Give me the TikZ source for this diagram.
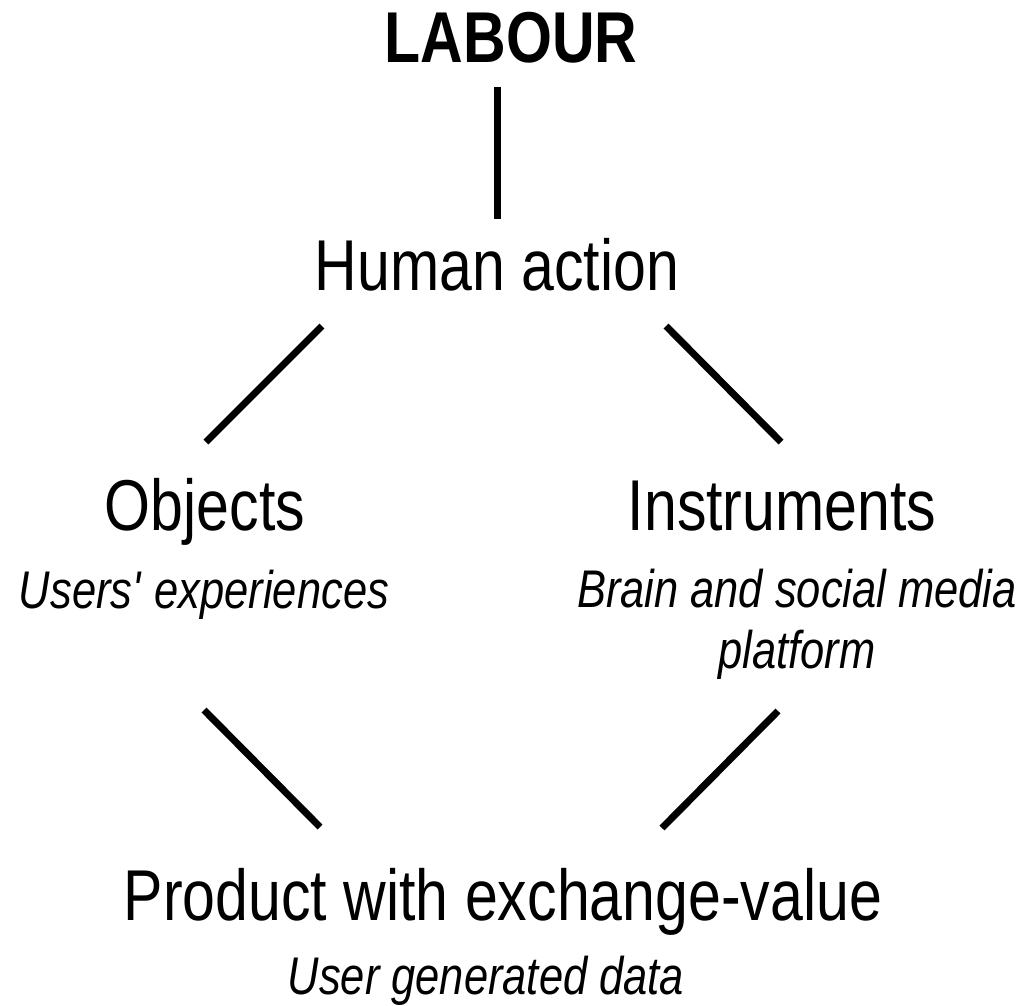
\documentclass[tikz,border=0pt]{standalone}
\usepackage{fontspec}
\setmainfont{Liberation Sans}[FakeStretch=0.82]
\tikzset{
  big/.style={font=\fontsize{72}{80}\selectfont, inner sep=0pt, anchor=base},
  sub/.style={font=\fontsize{53}{61}\selectfont\itshape, inner sep=0pt, anchor=base, align=center},
  link/.style={line width=7pt}
}
\begin{document}
\begin{tikzpicture}[x=1pt,y=-1pt]
\useasboundingbox (0,0) rectangle (1025,1005);
\node[big,font=\fontsize{72}{80}\selectfont\bfseries] (labour) at (511,62) {LABOUR};
\node[big] (human) at (497,290) {Human action};
\node[big] (objects) at (205,530) {Objects};
\node[sub] (users) at (204,608) {Users\textquotesingle{} experiences};
\node[big] (instr) at (782,530) {Instruments};
\node[sub,anchor=north] (brain) at (797,569) {Brain and social media\\platform};
\node[big] (product) at (503,920) {Product with exchange-value};
\node[sub] (data) at (486,994) {User generated data};
% connectors
\coordinate (l1) at (497,87);
\coordinate (h0) at (497,219);
\coordinate (h1) at (322,326);
\coordinate (o1) at (206,442);
\coordinate (h2) at (666,326);
\coordinate (i1) at (781,442);
\coordinate (o2) at (204,710);
\coordinate (p1) at (320,827);
\coordinate (i2) at (778,711);
\coordinate (p2) at (662,828);
\draw[link] (l1) -- (h0);
\draw[link] (h1) -- (o1);
\draw[link] (h2) -- (i1);
\draw[link] (o2) -- (p1);
\draw[link] (i2) -- (p2);
\end{tikzpicture}
\end{document}
